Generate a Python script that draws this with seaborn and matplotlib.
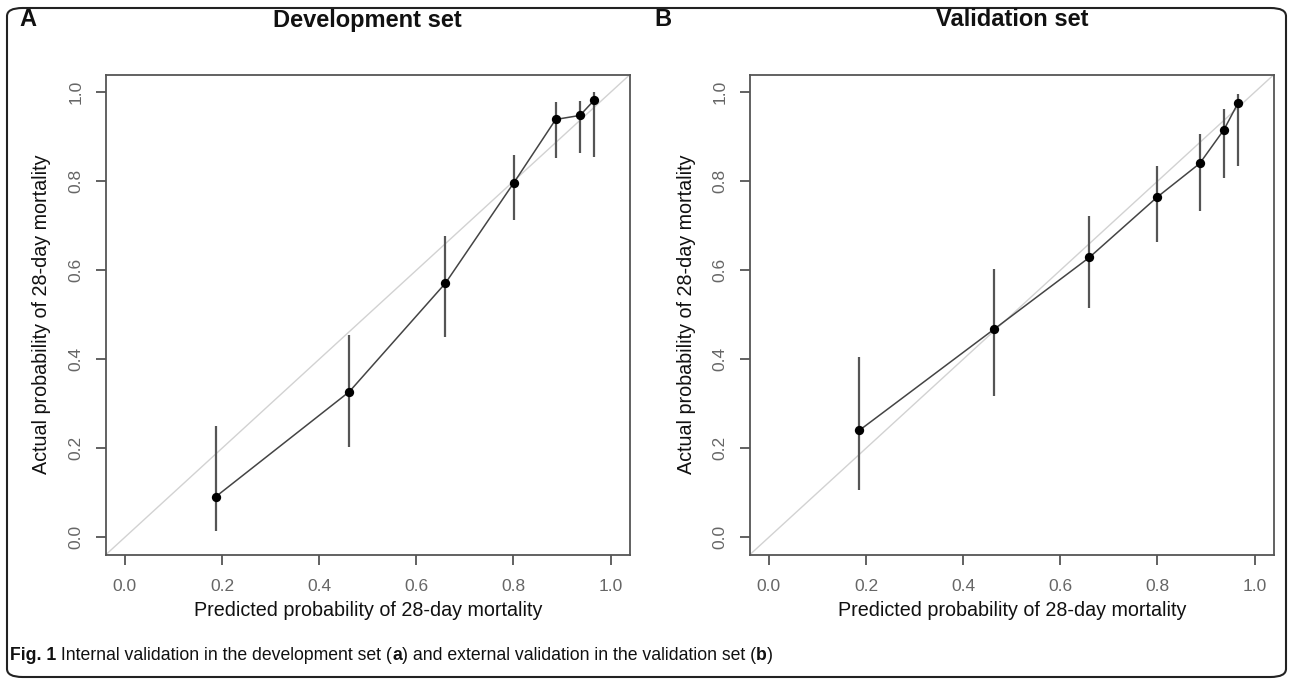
import numpy as np
import pandas as pd
import matplotlib
matplotlib.use("Agg")
import matplotlib.pyplot as plt
import seaborn as sns
from matplotlib.patches import FancyBboxPatch

# calibration points
pred_a = [0.187, 0.462, 0.660, 0.801, 0.887, 0.937, 0.966]
obs_a = [0.091, 0.327, 0.571, 0.797, 0.939, 0.948, 0.982]
lo_a = [0.014, 0.203, 0.451, 0.714, 0.853, 0.863, 0.855]
hi_a = [0.251, 0.455, 0.676, 0.860, 0.978, 0.980, 1.000]

pred_b = [0.186, 0.463, 0.660, 0.799, 0.887, 0.937, 0.966]
obs_b = [0.240, 0.467, 0.629, 0.764, 0.840, 0.916, 0.976]
lo_b = [0.105, 0.317, 0.516, 0.663, 0.734, 0.807, 0.834]
hi_b = [0.405, 0.602, 0.723, 0.835, 0.906, 0.962, 0.996]

ticks = [0.0, 0.2, 0.4, 0.6, 0.8, 1.0]
tick_labels = ["0.0", "0.2", "0.4", "0.6", "0.8", "1.0"]
titles = ["Development set", "Validation set"]
letters = ["A", "B"]
xlab = "Predicted probability of 28-day mortality"
ylab = "Actual probability of 28-day mortality"

sns.set_style("white")
plt.rcParams['font.family'] = ['Liberation Sans', 'DejaVu Sans']

fig = plt.figure(figsize=(12.92, 6.81), dpi=100)
W, H = 1292, 681

def calib_panel(ax, pred, obs, lo, hi):
    df = pd.DataFrame({'pred': pred, 'obs': obs, 'lo': lo, 'hi': hi})
    ax.plot([-0.04, 1.04], [-0.04, 1.04], color='#d2d2d2', lw=1.0, zorder=1)
    ax.vlines(df['pred'], df['lo'], df['hi'], color='#555555', lw=1.6, zorder=2)
    sns.lineplot(data=df, x='pred', y='obs', ax=ax, color='#444444', lw=1.1,
                 sort=False, zorder=3)
    sns.scatterplot(data=df, x='pred', y='obs', ax=ax, color='black', s=45,
                    edgecolor='black', linewidth=0, zorder=4)
    ax.set_xlim(-0.04, 1.04)
    ax.set_ylim(-0.04, 1.04)
    ax.set_xticks(ticks)
    ax.set_xticklabels(tick_labels)
    ax.set_yticks(ticks)
    ax.set_yticklabels(tick_labels, rotation=90, va='center')
    ax.tick_params(axis='both', direction='out', length=7, width=1.3,
                   bottom=True, left=True, color='#555555',
                   labelcolor='#666666', labelsize=12.5)
    ax.tick_params(axis='x', pad=10)
    ax.tick_params(axis='y', pad=9)
    for sp in ax.spines.values():
        sp.set_visible(True)
        sp.set_color('#555555')
        sp.set_linewidth(1.3)
    ax.set_xlabel(xlab, fontsize=14.2, color='#111111')
    ax.set_ylabel(ylab, fontsize=14.2, color='#111111')
    ax.xaxis.set_label_coords(0.5, (555 - 610) / 480.5)
    ax.yaxis.set_label_coords((42 - 105.5) / 524.5, 0.5)
    ax.xaxis.label.set_va('center')
    ax.yaxis.label.set_va('center')

lefts = [105.5, 749.5]
data = [(pred_a, obs_a, lo_a, hi_a), (pred_b, obs_b, lo_b, hi_b)]
for i in range(2):
    ax = fig.add_axes([lefts[i] / W, 1 - 555 / H, 524.5 / W, 480.5 / H])
    calib_panel(ax, *data[i])
    cx = (lefts[i] + 524.5 / 2) / W
    fig.text(cx, 1 - 20 / H, titles[i], ha='center', va='center',
             fontsize=17, fontweight='bold', color='#111111')
    fig.text((19 + i * 635) / W, 1 - 20 / H, letters[i], ha='left', va='center',
             fontsize=17, fontweight='bold', color='#111111')

# caption with mixed bold / regular pieces
cap_parts = [("Fig. 1", 'bold'), (" Internal validation in the development set (", 'normal'),
             ("a", 'bold'), (") and external validation in the validation set (", 'normal'),
             ("b", 'bold'), (")", 'normal')]
renderer = fig.canvas.get_renderer()
x = 10
for txt, wt in cap_parts:
    t = fig.text(x / W, 1 - 656 / H, txt, ha='left', va='center', fontsize=12.7,
                 fontweight=wt, color='#111111',
                 family=['Liberation Sans Narrow', 'Liberation Sans'])
    bb = t.get_window_extent(renderer=renderer)
    x += bb.width

frame = FancyBboxPatch((7 / W, 4 / H), 1279 / W, 669 / H,
                       boxstyle="round,pad=0,rounding_size=0.012",
                       transform=fig.transFigure, fill=False,
                       edgecolor='#222222', lw=1.5)
fig.patches.append(frame)

fig.savefig("out.png", dpi=100)
